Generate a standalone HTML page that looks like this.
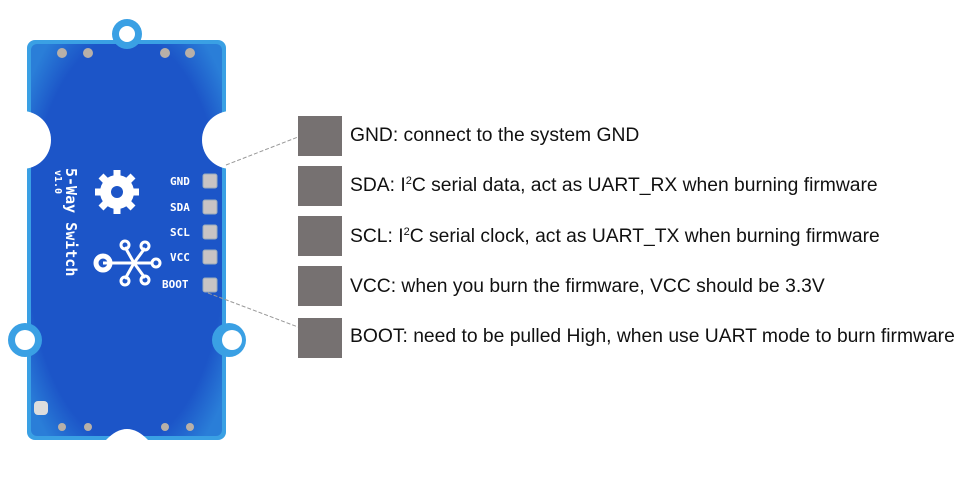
<!DOCTYPE html>
<html><head><style>
body{margin:0;background:#fff;width:963px;height:492px;overflow:hidden;position:relative;font-family:"Liberation Sans","DejaVu Sans",sans-serif}
.sq{position:absolute;left:298px;width:44px;height:40px;background:#767171}
.t{position:absolute;left:350px;font-size:19.3px;color:#111;white-space:nowrap}
sup{font-size:11px;vertical-align:7px;line-height:0}
</style></head><body>
<svg width="963" height="492" style="position:absolute;left:0;top:0">
<defs>
<radialGradient id="g" cx="50%" cy="50%" r="65%"><stop offset="0.8" stop-color="#1c55c8"/><stop offset="1" stop-color="#2a7ed8"/></radialGradient>
</defs>
<g>
<rect x="27" y="40" width="199" height="400" rx="8" fill="#3aa0e4"/>
<rect x="31" y="44" width="191" height="392" rx="6" fill="url(#g)"/>
<circle cx="127" cy="34" r="15" fill="#3aa0e4"/>
<circle cx="127" cy="34" r="8" fill="#fff"/>
<circle cx="25" cy="340" r="17" fill="#3aa0e4"/>
<circle cx="25" cy="340" r="10" fill="#fff"/>
<circle cx="229" cy="340" r="17" fill="#3aa0e4"/>
<circle cx="232" cy="340" r="10" fill="#fff"/>
<circle cx="22" cy="140" r="29" fill="#fff"/>
<circle cx="231" cy="140" r="29" fill="#fff"/>
<path d="M106 440 Q127 418 148 440 Z" fill="#fff"/>
<g fill="#b8b0a8"><circle cx="62" cy="53" r="5"/><circle cx="88" cy="53" r="5"/><circle cx="165" cy="53" r="5"/><circle cx="190" cy="53" r="5"/>
<circle cx="62" cy="427" r="4"/><circle cx="88" cy="427" r="4"/><circle cx="165" cy="427" r="4"/><circle cx="190" cy="427" r="4"/></g>
<rect x="34" y="401" width="14" height="14" rx="4" fill="#ddd"/>
<g fill="#c8c4c4" stroke="#9ab" stroke-width="1"><rect x="203" y="174" width="14" height="14" rx="2"/><rect x="203" y="200" width="14" height="14" rx="2"/><rect x="203" y="225" width="14" height="14" rx="2"/><rect x="203" y="250" width="14" height="14" rx="2"/><rect x="203" y="278" width="14" height="14" rx="2"/></g>
<g fill="#fff" font-family="DejaVu Sans Mono,monospace" font-weight="bold" font-size="11">
<text x="170" y="185">GND</text><text x="170" y="211">SDA</text><text x="170" y="236">SCL</text><text x="170" y="261">VCC</text><text x="162" y="288">BOOT</text></g>
<text transform="translate(66,168) rotate(90)" fill="#fff" font-family="DejaVu Sans Mono,monospace" font-weight="bold" font-size="15">5-Way Switch</text>
<text transform="translate(55,170) rotate(90)" fill="#fff" font-family="DejaVu Sans Mono,monospace" font-weight="bold" font-size="10">v1.0</text>
<circle cx="117" cy="192" r="17" fill="#fff"/>
<g stroke="#fff" stroke-width="7"><line x1="117" y1="170" x2="117" y2="214"/><line x1="95" y1="192" x2="139" y2="192"/><line x1="101" y1="176" x2="133" y2="208"/><line x1="133" y1="176" x2="101" y2="208"/></g>
<circle cx="117" cy="192" r="6" fill="#1c55c8"/>
<g stroke="#fff" stroke-width="3" fill="none"><line x1="103" y1="263" x2="152" y2="263"/><line x1="125" y1="247" x2="134" y2="263"/><line x1="125" y1="279" x2="134" y2="263"/><line x1="145" y1="248" x2="134" y2="263"/><line x1="145" y1="278" x2="134" y2="263"/>
<circle cx="103" cy="263" r="7" stroke-width="5"/><circle cx="125" cy="245" r="4"/><circle cx="125" cy="281" r="4"/><circle cx="145" cy="246" r="4"/><circle cx="145" cy="280" r="4"/><circle cx="156" cy="263" r="4"/></g>
</g>
<g stroke="#999" stroke-width="1" stroke-dasharray="4,2"><line x1="226" y1="165" x2="298" y2="137"/><line x1="208" y1="293" x2="298" y2="327"/></g>
</svg>
<div class="sq" style="top:116px"></div>
<div class="sq" style="top:166px"></div>
<div class="sq" style="top:216px"></div>
<div class="sq" style="top:266px"></div>
<div class="sq" style="top:318px"></div>
<div class="t" style="top:125px">GND: connect to the system GND</div>
<div class="t" style="top:175px">SDA: I<sup>2</sup>C serial data, act as UART_RX when burning firmware</div>
<div class="t" style="top:226px">SCL: I<sup>2</sup>C serial clock, act as UART_TX when burning firmware</div>
<div class="t" style="top:276px">VCC: when you burn the firmware, VCC should be 3.3V</div>
<div class="t" style="top:326px">BOOT: need to be pulled High, when use UART mode to burn firmware</div>
</body></html>
